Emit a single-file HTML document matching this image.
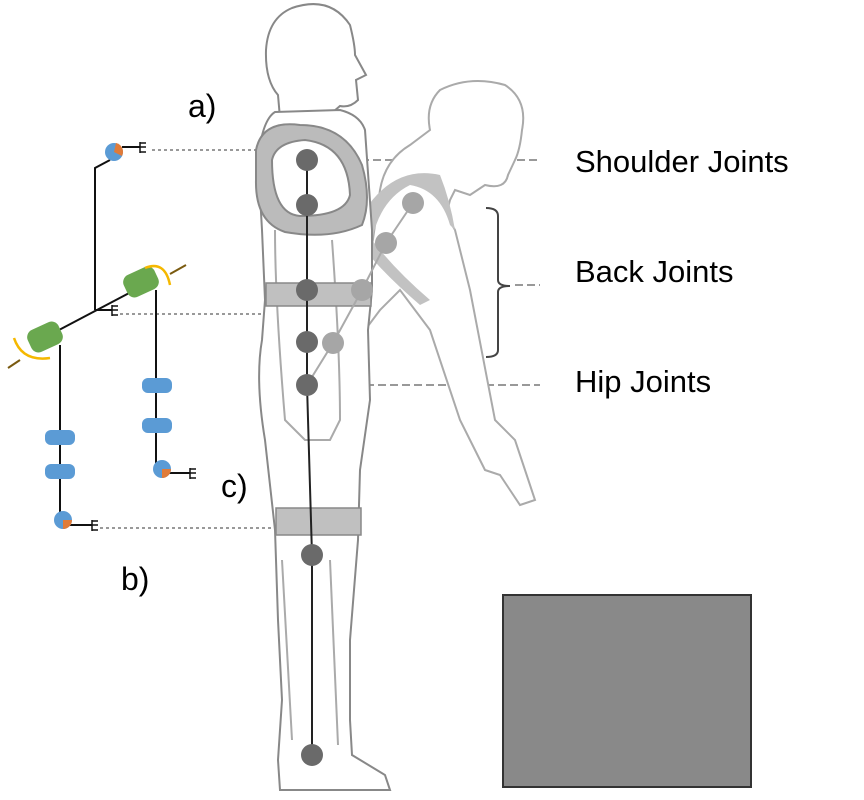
<!DOCTYPE html>
<html><head><style>
html,body{margin:0;padding:0;background:#fff;}
svg{display:block}
text{font-family:"Liberation Sans",sans-serif;fill:#000}
</style></head><body>
<svg width="864" height="800" viewBox="0 0 864 800" xmlns="http://www.w3.org/2000/svg">
<g stroke="#999" stroke-width="2" stroke-dasharray="3,3" fill="none">
<line x1="152" y1="150" x2="258" y2="150"/>
<line x1="120" y1="314" x2="266" y2="314"/>
<line x1="100" y1="528" x2="275" y2="528"/>
</g>
<g stroke="#999" stroke-width="2" stroke-dasharray="8,4" fill="none">
<line x1="325" y1="160" x2="540" y2="160"/>
<line x1="330" y1="385" x2="540" y2="385"/>
<line x1="515" y1="285" x2="540" y2="285"/>
</g>
<path d="M486 208 Q498 208 498 216 L498 280 Q498 286 510 286 Q498 286 498 292 L498 350 Q498 357 486 357" fill="none" stroke="#444" stroke-width="2"/>

<g fill="#fff" stroke="#aaa" stroke-width="2">
<path d="M440 90 Q470 75 505 85 Q528 100 522 130 Q520 150 515 160 L508 175 Q505 190 485 185 L470 195 L455 190 L450 200 Q445 215 455 230 L470 290 L495 420 L515 440 L525 470 L535 500 L520 505 L500 475 L485 470 L460 420 L430 330 L400 290 L380 310 L365 330 L350 360 L345 400 L335 380 L370 260 L380 190 Q385 160 410 145 L430 130 Q425 105 440 90 Z"/>
</g>
<path d="M365 210 Q395 165 440 175 Q450 200 455 230 L450 225 Q440 190 410 185 Q380 200 372 240 Q395 270 430 300 L420 305 Q385 275 365 250 Z" fill="#c2c2c2"/>

<g fill="#fff" stroke="#888" stroke-width="2">
<path d="M292 8 Q330 -5 350 25 Q355 45 355 55 L366 75 L356 80 L358 100 Q350 108 340 106 L333 112 L330 120 L280 118 L278 95 Q265 80 266 50 Q268 18 292 8 Z"/>
<path d="M275 112 L340 110 Q360 115 365 130 L372 230 L372 290 L368 330 L370 400 L360 470 L358 540 L350 640 L350 720 L352 755 L385 775 L390 790 L280 790 L278 760 L282 700 L278 620 L275 530 L265 440 Q255 380 262 340 L265 300 L262 230 L258 160 Q262 120 275 112 Z"/>
<path d="M282 560 L292 740 M330 560 L338 745" fill="none" stroke="#aaa"/>
<path d="M275 230 Q275 300 285 420 L305 440 L330 440 L340 420 Q340 350 332 240" fill="none" stroke="#aaa"/>
</g>
<path d="M256 150 Q262 120 300 125 Q345 125 362 165 Q372 200 362 225 Q330 240 285 232 Q255 222 256 180 Z M272 160 Q272 214 300 216 Q345 216 350 195 Q348 145 305 140 Q276 142 272 160 Z" fill="#bbbbbb" fill-rule="evenodd" stroke="#888" stroke-width="2"/>
<rect x="266" y="283" width="105" height="23" fill="#c0c0c0" stroke="#888" stroke-width="1.5"/>
<rect x="276" y="508" width="85" height="27" fill="#c0c0c0" stroke="#888" stroke-width="1.5"/>

<g stroke="#aaa" stroke-width="2"><polyline points="413,203 386,243 362,290 333,343 307,385" fill="none"/></g>
<g fill="#a6a6a6"><circle cx="413" cy="203" r="11"/><circle cx="386" cy="243" r="11"/><circle cx="362" cy="290" r="11"/><circle cx="333" cy="343" r="11"/></g>
<polyline points="307,160 307,385 312,555 312,755" fill="none" stroke="#222" stroke-width="2"/>
<g fill="#6a6a6a"><circle cx="307" cy="160" r="11"/><circle cx="307" cy="205" r="11"/><circle cx="307" cy="290" r="11"/><circle cx="307" cy="342" r="11"/><circle cx="307" cy="385" r="11"/><circle cx="312" cy="555" r="11"/><circle cx="312" cy="755" r="11"/></g>

<rect x="503" y="595" width="248" height="192" fill="#898989" stroke="#333" stroke-width="2"/>

<g stroke="#111" stroke-width="2" fill="none">
<polyline points="110,160 95,168 95,310"/>
<line x1="122" y1="147" x2="140" y2="147"/>
<line x1="40" y1="340" x2="150" y2="282"/>
<line x1="95" y1="310" x2="112" y2="310"/>
<line x1="60" y1="345" x2="60" y2="520"/>
<line x1="156" y1="290" x2="156" y2="465"/>
<line x1="68" y1="525" x2="92" y2="525"/>
<line x1="168" y1="473" x2="190" y2="473"/>
</g>
<g stroke="#111" stroke-width="1.5" fill="none">
<path d="M140 142 L140 153 M140 143 L146 143 M140 147 L146 147 M140 152 L146 152"/>
<path d="M112 305 L112 316 M112 306 L118 306 M112 310 L118 310 M112 315 L118 315"/>
<path d="M92 520 L92 531 M92 521 L98 521 M92 525 L98 525 M92 530 L98 530"/>
<path d="M190 468 L190 479 M190 469 L196 469 M190 473 L196 473 M190 478 L196 478"/>
</g>
<g>
<circle cx="114" cy="152" r="9" fill="#5b9bd5"/><path d="M114 152 L116 143 A9 9 0 0 1 122 156 Z" fill="#e07b39"/>
<circle cx="63" cy="520" r="9" fill="#5b9bd5"/><path d="M63 520 L72 520 A9 9 0 0 1 63 529 Z" fill="#e07b39"/>
<circle cx="162" cy="469" r="9" fill="#5b9bd5"/><path d="M162 469 L171 469 A9 9 0 0 1 162 478 Z" fill="#e07b39"/>
</g>
<g fill="#5b9bd5">
<rect x="45" y="430" width="30" height="15" rx="6"/><rect x="45" y="464" width="30" height="15" rx="6"/>
<rect x="142" y="378" width="30" height="15" rx="6"/><rect x="142" y="418" width="30" height="15" rx="6"/>
</g>
<g fill="#6aa84f">
<rect x="28" y="325" width="34" height="24" rx="8" transform="rotate(-25 45 337)"/>
<rect x="124" y="270" width="34" height="24" rx="8" transform="rotate(-25 141 282)"/>
</g>
<g stroke="#f5b800" stroke-width="2.5" fill="none">
<path d="M14 338 Q22 362 50 358"/><path d="M145 268 Q165 260 170 285"/>
</g>
<g stroke="#7a5a10" stroke-width="2"><line x1="8" y1="368" x2="20" y2="360"/><line x1="170" y1="274" x2="186" y2="265"/></g>

<text x="188" y="117" font-size="32">a)</text>
<text x="221" y="497" font-size="32">c)</text>
<text x="121" y="590" font-size="32">b)</text>
<text x="575" y="172" font-size="31">Shoulder Joints</text>
<text x="575" y="282" font-size="31">Back Joints</text>
<text x="575" y="392" font-size="31">Hip Joints</text>
</svg>
</body></html>
